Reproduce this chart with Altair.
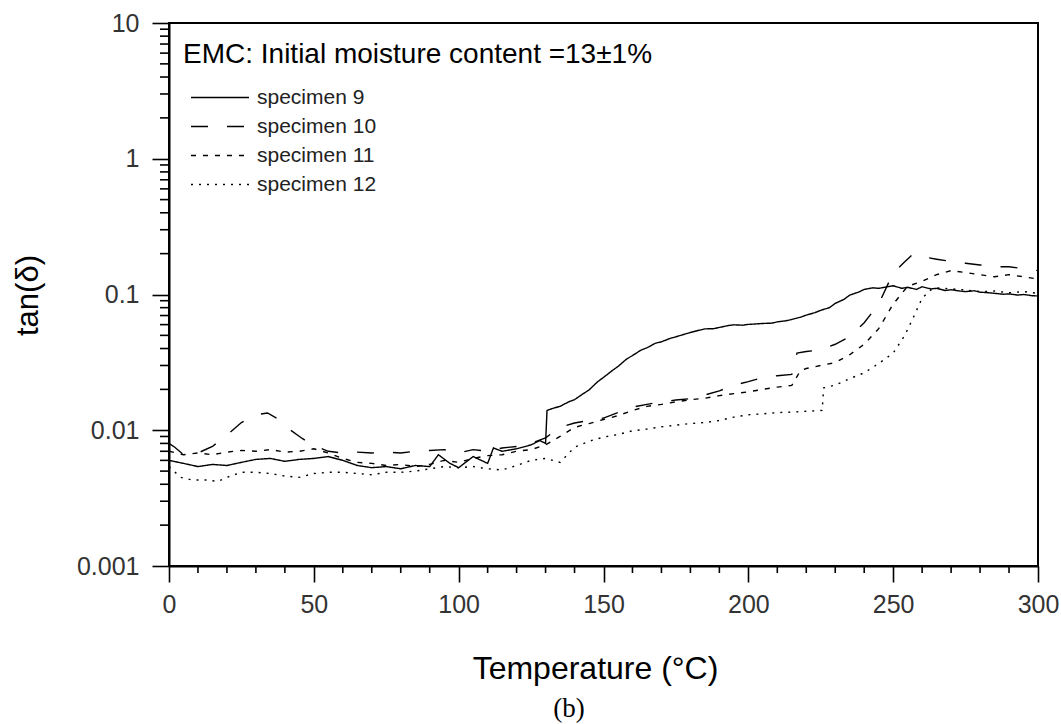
import altair as alt
import pandas as pd

# ---- data ----
names = ["specimen 9", "specimen 10", "specimen 11", "specimen 12"]

T9 = [0, 5, 10, 15, 20, 25, 30, 35, 40, 45, 50, 55, 60, 65, 70, 75, 80, 85, 90, 93, 97,
      100, 105, 110, 112, 115, 120, 125, 128, 130, 130.5, 133, 135, 138, 140, 143, 145,
      148, 150, 153, 155, 158, 160, 163, 165, 168, 170, 173, 175, 178, 180, 183, 185,
      188, 190, 193, 195, 198, 200, 203, 205, 208, 210, 213, 215, 218, 220, 223, 225,
      228, 230, 233, 235, 238, 240, 243, 245, 248, 250, 253, 255, 258, 260, 263, 265,
      268, 270, 273, 275, 278, 280, 283, 285, 288, 290, 293, 295, 298, 300]
V9 = [0.0060, 0.0057, 0.0054, 0.0056, 0.0055, 0.0058, 0.0061, 0.0062, 0.0059, 0.0061,
      0.0062, 0.0064, 0.0060, 0.0055, 0.0053, 0.0054, 0.0052, 0.0055, 0.0054, 0.0066,
      0.0057, 0.0053, 0.0064, 0.0057, 0.0074, 0.0070, 0.0073, 0.0078, 0.0084, 0.0080,
      0.0140, 0.0146, 0.0150, 0.0162, 0.0168, 0.0186, 0.0198, 0.0228, 0.0245, 0.0275,
      0.0295, 0.0335, 0.0355, 0.0390, 0.0405, 0.0438, 0.0448, 0.0475, 0.0488, 0.0510,
      0.0525, 0.0545, 0.0558, 0.0560, 0.0572, 0.0590, 0.0598, 0.0594, 0.0602, 0.0608,
      0.0612, 0.0615, 0.0628, 0.0640, 0.0655, 0.0680, 0.0705, 0.0735, 0.0765, 0.0800,
      0.0860, 0.0920, 0.0990, 0.1040, 0.1090, 0.1120, 0.1110, 0.1140, 0.1160, 0.1110,
      0.1130, 0.1090, 0.1140, 0.1100, 0.1110, 0.1070, 0.1085, 0.1060, 0.1050, 0.1065,
      0.1040, 0.1030, 0.1020, 0.1005, 0.1010, 0.0990, 0.1000, 0.0980, 0.0975]

T10 = [0, 2, 5, 10, 15, 20, 25, 30, 34, 38, 42, 46, 50, 55, 60, 65, 70, 75, 80, 85, 90,
       95, 100, 105, 110, 115, 120, 125, 130, 135, 140, 145, 150, 155, 160, 165, 170,
       175, 180, 185, 190, 195, 200, 205, 210, 215, 216.8, 220, 225, 230, 235, 240, 245,
       250, 254, 257, 260, 265, 270, 275, 280, 285, 290, 295, 300]
V10 = [0.0080, 0.0075, 0.0066, 0.0068, 0.0076, 0.0092, 0.0114, 0.0130, 0.0134, 0.0120,
       0.0100, 0.0087, 0.0077, 0.0070, 0.0068, 0.0069, 0.0068, 0.0069, 0.0068, 0.0070,
       0.0071, 0.0072, 0.0068, 0.0072, 0.0070, 0.0074, 0.0076, 0.0080, 0.0088, 0.0105,
       0.0113, 0.0118, 0.0123, 0.0135, 0.0148, 0.0155, 0.0162, 0.0167, 0.0171, 0.0182,
       0.0195, 0.0215, 0.0228, 0.0245, 0.0252, 0.0258, 0.0370, 0.0380, 0.0392, 0.0430,
       0.0490, 0.0620, 0.0850, 0.1440, 0.1740, 0.2000, 0.1900, 0.1820, 0.1750, 0.1700,
       0.1650, 0.1600, 0.1600, 0.1550, 0.1500]

T11 = [0, 5, 10, 15, 20, 25, 30, 35, 40, 45, 50, 55, 60, 65, 70, 75, 80, 85, 90, 95, 100,
       105, 110, 115, 120, 125, 130, 135, 140, 145, 150, 155, 160, 165, 170, 175, 180,
       185, 190, 195, 200, 205, 210, 215, 218, 220, 225, 230, 235, 240, 245, 250, 255,
       260, 265, 270, 275, 280, 285, 290, 295, 300]
V11 = [0.0070, 0.0066, 0.0068, 0.0066, 0.0069, 0.0071, 0.0070, 0.0072, 0.0069, 0.0070,
       0.0073, 0.0068, 0.0062, 0.0058, 0.0057, 0.0055, 0.0056, 0.0054, 0.0056, 0.0060,
       0.0058, 0.0062, 0.0065, 0.0066, 0.0070, 0.0072, 0.0078, 0.0090, 0.0105, 0.0112,
       0.0120, 0.0128, 0.0140, 0.0150, 0.0155, 0.0162, 0.0168, 0.0172, 0.0180, 0.0186,
       0.0192, 0.0200, 0.0208, 0.0214, 0.0275, 0.0285, 0.0300, 0.0315, 0.0360, 0.0430,
       0.0560, 0.0850, 0.1150, 0.1250, 0.1400, 0.1500, 0.1450, 0.1400, 0.1350, 0.1400,
       0.1350, 0.1300]

T12 = [0, 4, 8, 13, 17, 20, 25, 30, 35, 40, 45, 50, 55, 60, 65, 70, 75, 80, 85, 90, 95,
       100, 105, 110, 115, 120, 125, 130, 135, 140, 145, 150, 155, 160, 165, 170, 175,
       180, 185, 190, 195, 200, 205, 210, 215, 220, 225.5, 226, 230, 235, 240, 245, 250,
       254, 257, 260, 263, 265, 270, 275, 280, 285, 290, 295, 300]
V12 = [0.0054, 0.0045, 0.0043, 0.0043, 0.0042, 0.0045, 0.0049, 0.0049, 0.0048, 0.0046,
       0.0045, 0.0048, 0.0049, 0.0049, 0.0048, 0.0047, 0.0049, 0.0049, 0.0050, 0.0052,
       0.0054, 0.0053, 0.0054, 0.0052, 0.0051, 0.0055, 0.0060, 0.0062, 0.0058, 0.0075,
       0.0083, 0.0089, 0.0093, 0.0099, 0.0102, 0.0106, 0.0109, 0.0112, 0.0114, 0.0118,
       0.0125, 0.0130, 0.0132, 0.0135, 0.0136, 0.0138, 0.0140, 0.0205, 0.0215, 0.0240,
       0.0265, 0.0310, 0.0370, 0.0500, 0.0680, 0.0940, 0.1080, 0.1120, 0.1100, 0.1080,
       0.1050, 0.1060, 0.1030, 0.1050, 0.1020]

x_major = [0, 50, 100, 150, 200, 250, 300]
x_minor = [v for v in range(0, 301, 10) if v % 50 != 0]
y_major = [0.001, 0.01, 0.1, 1, 10]
y_minor = [round(d * k, 6) for d in [0.001, 0.01, 0.1, 1] for k in range(2, 10)]

legend_title = "EMC: Initial moisture content =13±1%"
dash_patterns = [[1, 0], [17, 19], [5, 7], [2, 6]]

# ---- build table ----
rows = []
for name, ts, vs in zip(names, [T9, T10, T11, T12], [V9, V10, V11, V12]):
    for t, v in zip(ts, vs):
        rows.append({"T": t, "tan": v, "specimen": name})
df = pd.DataFrame(rows)

FONT = "Liberation Sans"

x_scale = alt.Scale(domain=[0, 300], nice=False, zero=False)
y_scale = alt.Scale(type="log", domain=[0.001, 10], nice=False)

lines = alt.Chart(df).mark_line(color="black", strokeWidth=1.4, clip=True).encode(
    x=alt.X(
        "T:Q", scale=x_scale,
        axis=alt.Axis(
            values=x_major, format="d", ticks=True, tickSize=16,
            tickColor="black", tickWidth=1.6,
            domainColor="black", domainWidth=2,
            grid=False, labelFlush=False, labelOverlap=False,
            labelFont=FONT, labelFontSize=25, labelColor="#333333", labelPadding=10,
            title="Temperature (°C)", titleFont=FONT, titleFontSize=32,
            titleFontWeight="normal", titleColor="black",
            titleX=426, titleY=112, titleAlign="center", titleBaseline="alphabetic",
        ),
    ),
    y=alt.Y(
        "tan:Q", scale=y_scale,
        axis=alt.Axis(
            values=y_major, format="~g", ticks=True, tickSize=17,
            tickColor="black", tickWidth=1.6,
            domainColor="black", domainWidth=2,
            grid=False, labelOverlap=False, labelFlush=False,
            labelFont=FONT, labelFontSize=25, labelColor="#333333", labelPadding=13,
            title="tan(δ)", titleFont=FONT, titleFontSize=31,
            titleFontWeight="normal", titleColor="black",
            titleX=-141, titleY=272, titleAngle=270,
            titleAlign="center", titleBaseline="middle",
        ),
    ),
    strokeDash=alt.StrokeDash(
        "specimen:N",
        scale=alt.Scale(domain=names, range=dash_patterns),
        legend=alt.Legend(
            title=legend_title, orient="none", legendX=14, legendY=18,
            direction="vertical", padding=0,
            titleFont=FONT, titleFontSize=28, titleFontWeight="normal",
            titleColor="black", titlePadding=18, titleLimit=0,
            labelFont=FONT, labelFontSize=21, labelColor="#222222", labelLimit=0,
            symbolType="stroke", symbolSize=3364, symbolStrokeWidth=1.4,
            symbolStrokeColor="black", symbolOffset=7, labelOffset=7,
            clipHeight=21, rowPadding=7,
        ),
    ),
)

x_minor_ticks = alt.Chart(pd.DataFrame({"T": x_minor})).mark_rule(
    color="black", strokeWidth=1.6, clip=False
).encode(x=alt.X("T:Q", axis=None), y=alt.value(543), y2=alt.value(550))

y_minor_ticks = alt.Chart(pd.DataFrame({"tan": y_minor})).mark_rule(
    color="black", strokeWidth=1.6, clip=False
).encode(y=alt.Y("tan:Q", axis=None), x=alt.value(-9), x2=alt.value(0))

caption = alt.Chart(pd.DataFrame({"t": ["(b)"]})).mark_text(
    font="Liberation Serif", fontSize=27, color="black", align="center", baseline="alphabetic"
).encode(text="t:N", x=alt.value(400), y=alt.value(694))

chart = alt.layer(lines, x_minor_ticks, y_minor_ticks, caption).resolve_axis(
    x="independent", y="independent"
).properties(
    width=869, height=543,
    autosize=alt.AutoSizeParams(type="none"),
    padding={"left": 169, "top": 23, "right": 23, "bottom": 158},
    background="white",
).configure_view(stroke="black", strokeWidth=2)

chart.save("out.html", embed_options={"renderer": "svg", "actions": False})
